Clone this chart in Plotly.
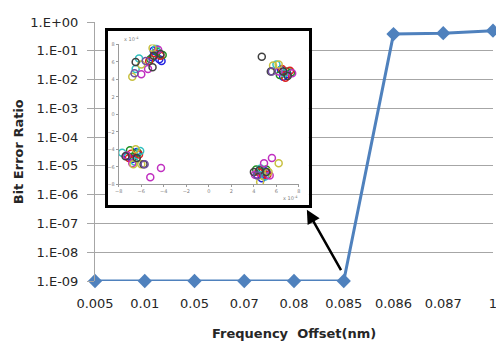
import plotly.graph_objects as go

# ---------------- data ----------------
categories = ["0.005", "0.01", "0.05", "0.07", "0.08", "0.085", "0.086", "0.087", "1"]
ber_values = [1e-9, 1e-9, 1e-9, 1e-9, 1e-9, 1e-9, 0.38, 0.41, 0.5]
y_tick_vals = [1e-9, 1e-8, 1e-7, 1e-6, 1e-5, 1e-4, 1e-3, 1e-2, 1e-1, 1e0]
y_tick_text = ["1.E-09", "1.E-08", "1.E-07", "1.E-06", "1.E-05", "1.E-04",
               "1.E-03", "1.E-02", "1.E-01", "1.E+00"]

# inset constellation (units of 1e-4), one list pair per colour
blue_x = [-4.2, -4.4, -5.0, -4.9, 6.6, 7.0, 6.4, -7.2, -6.4, -6.8, 4.9, 5.0, 4.3, 4.7]
blue_y = [6.1, 6.3, 6.5, 7.3, 4.3, 4.6, 5.1, -4.8, -4.3, -5.1, -6.8, -6.5, -6.9, -7.3]
green_x = [-4.1, -4.6, -5.2, 6.9, 6.3, 7.3, -6.3, -6.7, -7.0, 4.2, 4.6, 5.1]
green_y = [6.8, 7.2, 6.3, 4.9, 4.5, 4.8, -4.4, -4.9, -4.1, -6.3, -6.6, -6.3]
red_x = [-4.8, -4.3, -5.3, 6.5, 7.2, 6.8, -6.9, -6.2, -7.1, 4.4, 5.2, 4.8]
red_y = [7.0, 6.7, 6.1, 5.2, 5.0, 4.2, -4.5, -4.6, -5.0, -6.6, -6.9, -7.0]
cyan_x = [-4.7, -6.2, -6.5, 6.0, 6.7, -6.1, -6.6, -7.7, 4.6, 5.0]
cyan_y = [7.5, 6.4, 5.2, 5.7, 4.7, -4.2, -5.4, -4.4, -6.2, -7.1]
magenta_x = [-4.5, -6.0, -5.4, 7.4, 6.2, -4.25, -5.2, -6.8, -7.3, 4.9, 5.6, 5.4, 4.1]
magenta_y = [7.4, 4.6, 5.2, 4.7, 4.9, -6.15, -7.2, -5.6, -4.7, -5.6, -5.0, -7.0, -6.9]
yellow_x = [-6.0, -6.8, -5.0, 5.7, 6.2, -6.7, -6.5, -6.0, 6.2, 5.3, 4.55]
yellow_y = [5.7, 4.3, 7.6, 5.6, 5.7, -5.7, -4.0, -5.7, -5.6, -6.6, -7.75]
black_x = [-4.3, -6.5, -5.0, -4.9, 4.7, 5.5, 7.0, 6.6, -7.4, -5.8, -6.4, 4.5, 4.0, 5.1]
black_y = [6.9, 6.0, 5.4, 6.7, 6.6, 4.9, 4.4, 4.9, -4.8, -5.7, -5.0, -6.4, -6.6, -6.6]
purple_x = [-5.6, -6.6, 5.6, -5.7, 4.3]
purple_y = [6.1, 4.7, 4.9, -5.7, -7.0]
inset_ticks = [-8, -6, -4, -2, 0, 2, 4, 6, 8]

inset_series = [
    (blue_x, blue_y, "#2020e0"),
    (green_x, green_y, "#209020"),
    (red_x, red_y, "#e02020"),
    (cyan_x, cyan_y, "#30c0c0"),
    (magenta_x, magenta_y, "#c030c0"),
    (yellow_x, yellow_y, "#c8c040"),
    (black_x, black_y, "#404040"),
    (purple_x, purple_y, "#7050a0"),
]

FONT = "DejaVu Sans"
TXT = "#262626"

fig = go.Figure()

# main series
fig.add_trace(go.Scatter(
    x=list(range(len(categories))), y=ber_values,
    mode="lines+markers",
    line=dict(color="#4F81BD", width=3),
    marker=dict(symbol="diamond", size=11, color="#4F81BD"),
    cliponaxis=False, showlegend=False, hoverinfo="skip",
))

# empty trace for border box subplot
fig.add_trace(go.Scatter(x=[None], y=[None], xaxis="x2", yaxis="y2",
                         showlegend=False, hoverinfo="skip"))

# inset constellation
for xs, ys, col in inset_series:
    fig.add_trace(go.Scatter(
        x=xs, y=ys, xaxis="x3", yaxis="y3", mode="markers",
        marker=dict(symbol="circle-open", size=7, color=col, line=dict(width=1.5)),
        showlegend=False, hoverinfo="skip",
    ))

# page body has an 8px margin: figure sits at (8, 8) in the window
OFF = 8
W, H = 504 - OFF, 345 - OFF
L, R, T, B = 95 - OFF, 7, 16 - OFF, 64
pw, ph = W - L - R, H - T - B


def px_x(p):  # window pixel -> paper fraction
    return (p - OFF - L) / pw


def px_y(p):
    return (H - B - (p - OFF)) / ph


fig.update_layout(
    width=W, height=H,
    margin=dict(l=L, r=R, t=T, b=B),
    paper_bgcolor="white", plot_bgcolor="white",
    font=dict(family=FONT, size=13, color=TXT),
    showlegend=False,
    xaxis=dict(
        range=[0, len(categories) - 1],
        tickvals=list(range(len(categories))), ticktext=categories,
        showgrid=False, zeroline=False, showline=False, ticks="",
        ticklabelstandoff=13,
        tickfont=dict(family=FONT, size=13, color=TXT),
    ),
    yaxis=dict(
        type="log", range=[-9, 0],
        tickvals=y_tick_vals, ticktext=y_tick_text,
        showgrid=True, gridcolor="#A6A6A6", gridwidth=1,
        showline=True, linecolor="#A6A6A6", linewidth=1,
        ticks="outside", ticklen=7, tickcolor="#A6A6A6",
        ticklabelstandoff=6,
        zeroline=False,
        tickfont=dict(family=FONT, size=13, color=TXT),
    ),
    xaxis2=dict(
        domain=[px_x(108), px_x(311)], anchor="y2", range=[0, 1],
        showgrid=False, zeroline=False, showticklabels=False, ticks="",
        showline=True, mirror=True, linecolor="black", linewidth=2.5,
    ),
    yaxis2=dict(
        domain=[px_y(203), px_y(25)], anchor="x2", range=[0, 1],
        showgrid=False, zeroline=False, showticklabels=False, ticks="",
        showline=True, mirror=True, linecolor="black", linewidth=2.5,
    ),
    xaxis3=dict(
        domain=[px_x(119), px_x(301)], anchor="y3", range=[-8, 8],
        tickvals=inset_ticks, showgrid=False, zeroline=False,
        showline=True, linecolor="#9a9a9a", linewidth=1,
        ticks="outside", ticklen=2, tickcolor="#9a9a9a",
        tickfont=dict(family=FONT, size=5, color="#808080"),
    ),
    yaxis3=dict(
        domain=[px_y(182), px_y(39)], anchor="x3", range=[-8, 8],
        tickvals=inset_ticks, showgrid=False, zeroline=False,
        showline=True, linecolor="#9a9a9a", linewidth=1,
        ticks="outside", ticklen=2, tickcolor="#9a9a9a",
        tickfont=dict(family=FONT, size=5, color="#808080"),
    ),
    annotations=[
        dict(text="<b>Frequency  Offset(nm)</b>", xref="paper", yref="paper",
             x=0.5, y=px_y(335), xanchor="center", yanchor="middle",
             showarrow=False, font=dict(family=FONT, size=13, color=TXT)),
        dict(text="<b>Bit Error Ratio</b>", xref="paper", yref="paper",
             x=px_x(18), y=0.5, xanchor="center", yanchor="middle",
             textangle=-90, showarrow=False,
             font=dict(family=FONT, size=13, color=TXT)),
        dict(text="x 10<sup>-4</sup>", xref="paper", yref="paper",
             x=px_x(122), y=px_y(33), xanchor="left", yanchor="middle",
             showarrow=False, font=dict(family=FONT, size=5, color="#808080")),
        dict(text="x 10<sup>-4</sup>", xref="paper", yref="paper",
             x=px_x(302), y=px_y(196), xanchor="right", yanchor="middle",
             showarrow=False, font=dict(family=FONT, size=5, color="#808080")),
        dict(text="", xref="paper", yref="paper",
             x=px_x(309), y=px_y(208), ax=35, ay=62,
             showarrow=True, arrowhead=2, arrowsize=1.1, arrowwidth=2.5,
             arrowcolor="black", standoff=0),
    ],
)

fig.write_html("out.html")
